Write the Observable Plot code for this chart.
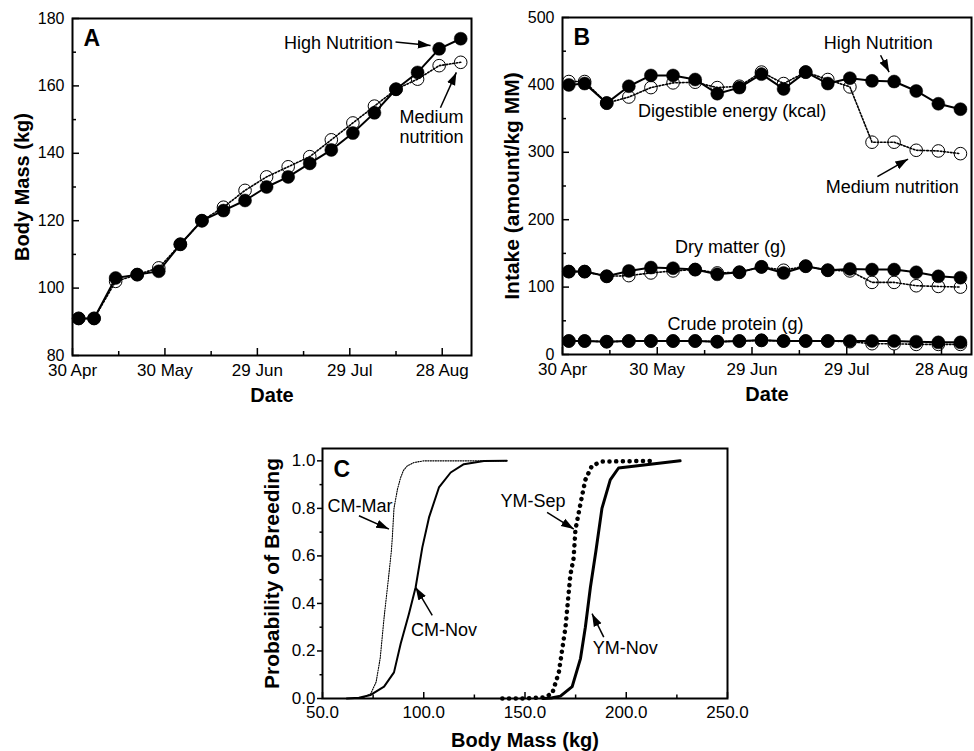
<!DOCTYPE html>
<html><head><meta charset="utf-8">
<script src="https://cdn.jsdelivr.net/npm/d3@7"></script>
<script src="https://cdn.jsdelivr.net/npm/@observablehq/plot@0.6"></script>
<style>
html,body{margin:0;padding:0;background:#fff;}
#wrap{position:relative;width:974px;height:751px;overflow:hidden;background:#fff;}
#wrap > svg{position:absolute;}
</style></head><body><div id="wrap"></div>
<script>
// ---------- DATA ----------
const sampleDates = ["2000-05-02","2000-05-07","2000-05-14","2000-05-21","2000-05-28","2000-06-04","2000-06-11","2000-06-18","2000-06-25","2000-07-02","2000-07-09","2000-07-16","2000-07-23","2000-07-30","2000-08-06","2000-08-13","2000-08-20","2000-08-27","2000-09-03"];
// Panel A: body mass (kg)
const massHigh   = [91,91,103,104,105,113,120,123,126,130,133,137,141,146,152,159,164,171,174];
const massMedium = [91,91,102,104,106,113,120,124,129,133,136,139,144,149,154,159,162,166,167];
// Panel B: intake (amount / kg MM)
const energyHigh   = [400,402,373,398,414,414,408,387,396,416,394,419,402,410,406,405,391,372,364];
const energyMedium = [405,405,373,382,396,403,404,396,398,419,402,419,408,397,315,315,303,302,298];
const dryHigh      = [123,123,116,124,129,128,126,119,122,130,121,131,125,127,126,126,122,116,114];
const dryMedium    = [123,123,116,117,121,124,126,121,122,130,125,131,125,124,107,107,102,101,100];
const proteinHigh  = [20,20,19,20,20,20,20,19,20,21,20,20,20,20,20,20,19,18,18];
const proteinMedium= [20,20,19,20,20,20,20,19,20,21,20,20,20,19,16,16,15,15,15];
// Date axis
const dateTickDates  = ["2000-04-30","2000-05-30","2000-06-29","2000-07-29","2000-08-28"];
const dateTickLabels = ["30 Apr","30 May","29 Jun","29 Jul","28 Aug"];
const dateMinorTicks = ["2000-05-15","2000-06-14","2000-07-14","2000-08-13"];
const dateDomain = ["2000-04-30","2000-09-06T12:00Z"];
const massTicks = [80,100,120,140,160,180];
const massMinor = [90,110,130,150,170];
const intakeTicks = [0,100,200,300,400,500];
const intakeMinor = [50,150,250,350,450];
// Panel C: probability of breeding vs body mass
const cmMarMass = [64,70,73.8,76.5,78.5,80.4,82.5,84,84.5,85.3,87,88.6,90,91.9,95.2,100,141];
const cmMarProb = [0,0.003,0.02,0.07,0.17,0.34,0.5,0.62,0.68,0.8,0.88,0.93,0.96,0.979,0.993,1,1];
const cmNovMass = [62,68,73.8,80.4,85.3,88.6,92.7,96,99.3,102.6,107.5,113.3,119.8,129.7,141];
const cmNovProb = [0,0.003,0.015,0.05,0.11,0.23,0.357,0.468,0.636,0.762,0.888,0.951,0.986,0.999,1];
const ymSepMass = [138.8,150,159.3,163.4,166.7,170,172.4,174,174.9,177.4,179.8,183.1,188,213];
const ymSepProb = [0,0,0.005,0.02,0.11,0.30,0.52,0.59,0.71,0.82,0.92,0.98,0.997,1];
const ymNovMass = [159,163,167.5,173.3,177.4,179.8,182.3,185,188,192.1,196.2,226.6];
const ymNovProb = [0,0.002,0.01,0.05,0.168,0.30,0.468,0.62,0.80,0.92,0.97,1];
const cMassTicks = [50,100,150,200,250];
const cMassTickLabels = ["50.0","100.0","150.0","200.0","250.0"];
const cMassMinor = [75,125,175,225];
const probTicks = [0,0.2,0.4,0.6,0.8,1.0];
const probTickLabels = ["0.0","0.2","0.4","0.6","0.8","1.0"];
const probMinor = [0.1,0.3,0.5,0.7,0.9];
// Annotations
const annAEnd = [{x:"2000-08-12", y:173, text:"High Nutrition"}];
const annAMid = [{x:"2000-08-24T12:00Z", y:148, text:"Medium\nnutrition"}];
const arrowsA = [
  {x1:"2000-08-12T20:00Z", y1:173, x2:"2000-08-24T05:00Z", y2:172},
  {x1:"2000-08-27T10:00Z", y1:153.5, x2:"2000-09-01T14:00Z", y2:164}
];
const annB = [
  {x:"2000-08-08", y:463, text:"High Nutrition"},
  {x:"2000-06-22T17:00Z", y:362, text:"Digestible energy (kcal)"},
  {x:"2000-08-12T10:00Z", y:250, text:"Medium nutrition"},
  {x:"2000-06-22T05:00Z", y:161, text:"Dry matter (g)"},
  {x:"2000-06-23T19:00Z", y:46, text:"Crude protein (g)"}
];
const arrowsB = [
  {x1:"2000-08-08T17:00Z", y1:444, x2:"2000-08-11T10:00Z", y2:419},
  {x1:"2000-08-07T17:00Z", y1:264, x2:"2000-08-17T10:00Z", y2:290}
];
const annC = [
  {x:68.5, y:0.811, text:"CM-Mar"},
  {x:110, y:0.287, text:"CM-Nov"},
  {x:153.9, y:0.832, text:"YM-Sep"},
  {x:199.5, y:0.211, text:"YM-Nov"}
];
const arrowsC = [
  {x1:68.0, y1:0.769, x2:82.8, y2:0.713},
  {x1:104.2, y1:0.35, x2:96.0, y2:0.468},
  {x1:160.9, y1:0.783, x2:174.1, y2:0.713},
  {x1:188.9, y1:0.258, x2:183.1, y2:0.357}
];

// ---------- DRAWING ----------
const FONT = "'Liberation Sans', Arial, Helvetica, sans-serif";
const parseD = s => new Date(s);
function headMarker(color) {
  const ns = "http://www.w3.org/2000/svg";
  const m = document.createElementNS(ns, "marker");
  m.setAttribute("viewBox", "-10 -5 10 10");
  m.setAttribute("refX", "0"); m.setAttribute("refY", "0");
  m.setAttribute("markerWidth", "8.5"); m.setAttribute("markerHeight", "8.5");
  m.setAttribute("orient", "auto");
  const p = document.createElementNS(ns, "path");
  p.setAttribute("d", "M-10,-3.4L0,0L-10,3.4Z");
  p.setAttribute("fill", color || "black");
  p.setAttribute("stroke", "none");
  m.appendChild(p);
  return m;
}
function rows(dates, values) { return values.map((v, i) => ({date: parseD(dates[i]), v})); }

function datePanel(o) {
  const fw = o.width - o.ml - o.mr, fh = o.height - o.mt - o.mb;
  const marks = [];
  for (const s of o.series) {
    const med = rows(sampleDates, s.medium), high = rows(sampleDates, s.high);
    marks.push(Plot.line(med, {x:"date", y:"v", stroke:"black", strokeWidth:1.6, strokeDasharray:"1.6,1.8"}));
    marks.push(Plot.dot(med, {x:"date", y:"v", r:6.3, fill:"none", stroke:"black", strokeWidth:1}));
    marks.push(Plot.line(high, {x:"date", y:"v", stroke:"black", strokeWidth:2}));
    marks.push(Plot.dot(high, {x:"date", y:"v", r:6.5, fill:"black", stroke:"black", strokeWidth:0.5}));
  }
  marks.push(
    Plot.ruleX(dateTickDates.map(parseD), {x:d=>d, insetTop:fh-7, stroke:"black", strokeWidth:1.5}),
    Plot.ruleX(dateMinorTicks.map(parseD), {x:d=>d, insetTop:fh-4, stroke:"black", strokeWidth:1.5}),
    Plot.ruleY(o.yTicks, {y:d=>d, insetRight:fw-7, stroke:"black", strokeWidth:1.5}),
    Plot.ruleY(o.yMinor, {y:d=>d, insetRight:fw-4, stroke:"black", strokeWidth:1.5}),
    Plot.frame({stroke:"black", strokeWidth:2}),
    Plot.text(dateTickLabels, {x:(d,i)=>parseD(dateTickDates[i]), text:d=>d, frameAnchor:"bottom", dy:8, lineAnchor:"top", fontSize:17}),
    Plot.text(o.yTicks, {y:d=>d, text:d=>String(d), frameAnchor:"left", dx:-8, textAnchor:"end", fontSize:16}),
    Plot.text([o.letter], {text:d=>d, frameAnchor:"top-left", dx:11, dy:11, lineAnchor:"top", textAnchor:"start", fontSize:23, fontWeight:"bold"}),
    Plot.text(["Date"], {text:d=>d, frameAnchor:"bottom", dy:40, lineAnchor:"middle", fontSize:20, fontWeight:"bold"}),
    Plot.text([o.yLabel], {text:d=>d, frameAnchor:"left", dx:-50, rotate:-90, lineAnchor:"middle", textAnchor:"middle", fontSize:o.yLabelSize, fontWeight:"bold"})
  );
  for (const a of o.ann) {
    marks.push(Plot.text(a.data, {x:d=>parseD(d.x), y:"y", text:"text", textAnchor:a.anchor, lineAnchor:"middle", lineHeight:1.15, fontSize:18}));
  }
  marks.push(Plot.link(o.arrows, {x1:d=>parseD(d.x1), y1:"y1", x2:d=>parseD(d.x2), y2:"y2", stroke:"black", strokeWidth:1.5, markerEnd:headMarker}));
  return Plot.plot({
    width:o.width, height:o.height, marginLeft:o.ml, marginRight:o.mr, marginTop:o.mt, marginBottom:o.mb,
    style:{fontFamily:FONT, background:"transparent", overflow:"visible", color:"black"},
    x:{type:"utc", domain:dateDomain.map(parseD), axis:null},
    y:{domain:o.yDomain, axis:null},
    marks
  });
}

function panelC() {
  const width = 974, height = 351, ml = 322, mr = 247, mt = 48, mb = 53;
  const fw = width - ml - mr, fh = height - mt - mb;
  const curve = (m, p) => m.map((x, i) => ({x, y:p[i]}));
  return Plot.plot({
    width, height, marginLeft:ml, marginRight:mr, marginTop:mt, marginBottom:mb,
    style:{fontFamily:FONT, background:"transparent", overflow:"visible", color:"black"},
    x:{type:"linear", domain:[50,250], axis:null},
    y:{domain:[0,1.052], axis:null},
    marks:[
      Plot.line(curve(cmMarMass, cmMarProb), {x:"x", y:"y", stroke:"black", strokeWidth:1.1, strokeDasharray:"1.2,1.3"}),
      Plot.line(curve(cmNovMass, cmNovProb), {x:"x", y:"y", stroke:"black", strokeWidth:2}),
      Plot.line(curve(ymSepMass, ymSepProb), {x:"x", y:"y", stroke:"black", strokeWidth:4.5, strokeDasharray:"0.1,6.6", strokeLinecap:"round"}),
      Plot.line(curve(ymNovMass, ymNovProb), {x:"x", y:"y", stroke:"black", strokeWidth:3}),
      Plot.ruleX(cMassTicks, {x:d=>d, insetTop:fh-6, stroke:"black", strokeWidth:1.5}),
      Plot.ruleX(cMassMinor, {x:d=>d, insetTop:fh-3.5, stroke:"black", strokeWidth:1.5}),
      Plot.ruleY(probTicks, {y:d=>d, insetLeft:-5, insetRight:fw, stroke:"black", strokeWidth:1.5}),
      Plot.ruleY(probMinor, {y:d=>d, insetLeft:-2.5, insetRight:fw, stroke:"black", strokeWidth:1.5}),
      Plot.frame({stroke:"black", strokeWidth:2}),
      Plot.text(cMassTickLabels, {x:(d,i)=>cMassTicks[i], text:d=>d, frameAnchor:"bottom", dy:7, lineAnchor:"top", fontSize:17}),
      Plot.text(probTickLabels, {y:(d,i)=>probTicks[i], text:d=>d, frameAnchor:"left", dx:-7, textAnchor:"end", fontSize:17}),
      Plot.text(["C"], {text:d=>d, frameAnchor:"top-left", dx:11, dy:12, lineAnchor:"top", textAnchor:"start", fontSize:23, fontWeight:"bold"}),
      Plot.text(["Body Mass (kg)"], {text:d=>d, frameAnchor:"bottom", dy:42, lineAnchor:"middle", fontSize:20, fontWeight:"bold"}),
      Plot.text(["Probability of Breeding"], {text:d=>d, frameAnchor:"left", dx:-50, rotate:-90, lineAnchor:"middle", textAnchor:"middle", fontSize:21, fontWeight:"bold"}),
      Plot.text(annC, {x:"x", y:"y", text:"text", lineAnchor:"middle", fontSize:18}),
      Plot.link(arrowsC, {x1:"x1", y1:"y1", x2:"x2", y2:"y2", stroke:"black", strokeWidth:1.5, markerEnd:headMarker})
    ]
  });
}

const wrap = document.getElementById("wrap");
const C = panelC();
C.style.left = "0px"; C.style.top = "400px";
const A = datePanel({
  width:487, height:400, ml:72, mr:16, mt:18, mb:45, letter:"A",
  yDomain:[80,180], yTicks:massTicks, yMinor:massMinor, yLabel:"Body Mass (kg)", yLabelSize:20,
  series:[{high:massHigh, medium:massMedium}],
  ann:[{data:annAEnd, anchor:"end"},{data:annAMid, anchor:"middle"}], arrows:arrowsA
});
A.style.left = "0px"; A.style.top = "0px";
const B = datePanel({
  width:487, height:400, ml:75, mr:3, mt:17, mb:46, letter:"B",
  yDomain:[0,500], yTicks:intakeTicks, yMinor:intakeMinor, yLabel:"Intake (amount/kg MM)", yLabelSize:21,
  series:[{high:energyHigh, medium:energyMedium},{high:dryHigh, medium:dryMedium},{high:proteinHigh, medium:proteinMedium}],
  ann:[{data:annB, anchor:"middle"}], arrows:arrowsB
});
B.style.left = "487px"; B.style.top = "0px";
wrap.append(C, A, B);
</script></body></html>
